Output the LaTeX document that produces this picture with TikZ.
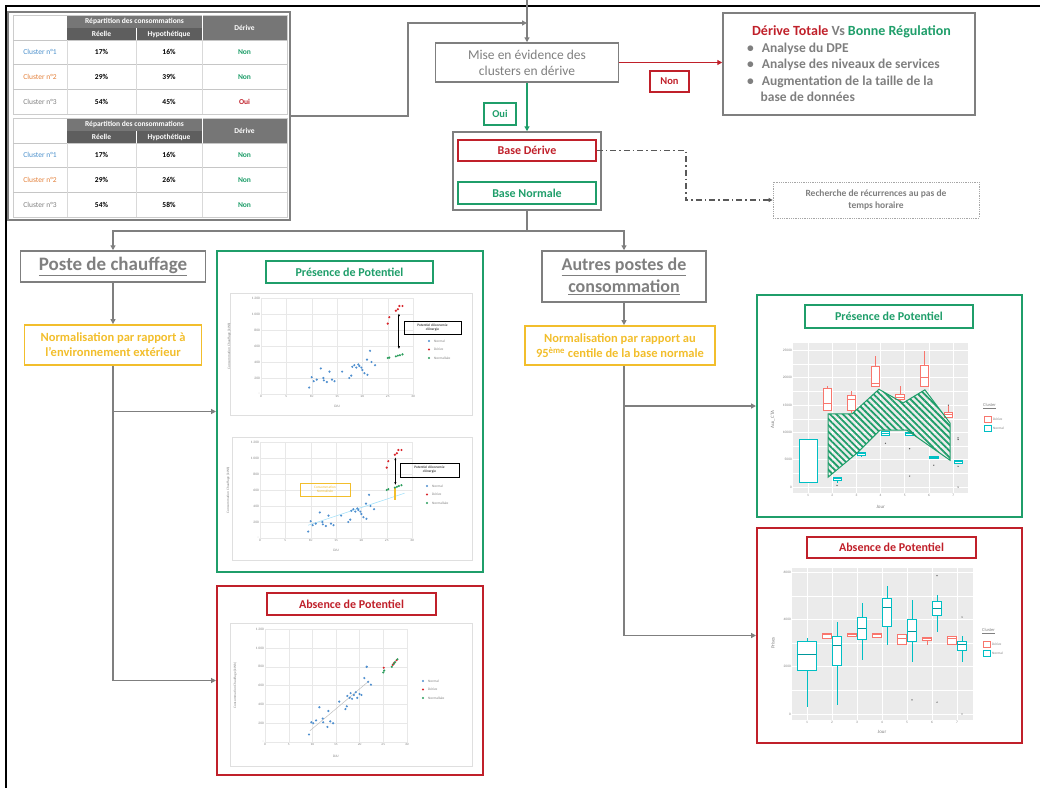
\documentclass[tikz,border=0pt]{standalone}
\usepackage{fontspec}
\setmainfont{Carlito}
\usetikzlibrary{arrows.meta,positioning,patterns.meta}

\definecolor{cgray}{HTML}{7F7F7F}
\definecolor{cgreen}{HTML}{1F9E6A}
\definecolor{cred}{HTML}{C0202A}
\definecolor{cyel}{HTML}{F2BE2C}
\definecolor{cblue}{HTML}{4A8FCB}
\definecolor{corange}{HTML}{E3803A}
\definecolor{thead}{HTML}{767676}
\definecolor{gpanel}{HTML}{EBEBEB}
\definecolor{gred}{RGB}{248,118,109}
\definecolor{gcyan}{RGB}{0,191,196}
\definecolor{gmed}{RGB}{0,151,155}
\definecolor{sblue}{HTML}{4F8FCF}
\definecolor{sred}{HTML}{D9262C}
\definecolor{sgreen}{HTML}{2A9D5C}

% nuages de points (DJU / kWh)
\newcommand{\nuageA}{9.5/80, 10/210, 10.4/160, 11/180, 11.8/320, 12.3/200, 12.4/170, 13/150, 13.5/280, 14/180, 14.5/160, 16/280, 17.4/200, 17.8/230, 18/340, 18.4/360, 18.8/330, 19.2/370, 19.4/350, 19.8/330, 20/300, 20.4/260, 21/240, 20.9/430, 21.5/540, 21.8/400, 22.5/360}
\newcommand{\nuageB}{9.3/80, 9.8/210, 10.2/200, 10.8/230, 11.5/370, 12.2/250, 12.3/210, 13.2/160, 13.4/330, 13.8/220, 14.4/200, 15.7/430, 17/350, 17.3/380, 17.4/490, 17.9/470, 18.1/520, 18.4/460, 18.8/500, 19.2/530, 19.5/470, 20/510, 20.4/500, 21/680, 21.5/800, 21.8/640, 22.4/610}
\newcommand{\nuageD}{25/880, 25.3/960, 26.6/1040, 27/1060, 27.3/1100, 27.9/1100}

\tikzset{
  boite/.style={draw=cgray,line width=1.5pt,inner sep=0pt,align=center},
  flux/.style={draw=cgray,line width=1.6pt,-{Triangle[length=5pt,width=5pt]}},
  titre/.style={draw,fill=white,line width=1.8pt,inner sep=0pt,font=\fontsize{12}{14}\selectfont\bfseries},
  cadre/.style={draw,line width=2pt,inner sep=0pt},
  graphe/.style={draw=gray!25,line width=0.5pt,fill=white,inner sep=0pt},
  minus/.style={font=\fontsize{3.5}{4}\selectfont,text=gray,inner sep=1pt},
  cellule/.style={font=\fontsize{7.5}{9}\selectfont\bfseries,inner sep=0pt},
  boxr/.style={color=gred,line width=0.8pt},
  boxc/.style={color=gcyan,line width=0.8pt},
}

\begin{document}
\begin{tikzpicture}[x=1pt,y=-1pt]
  \useasboundingbox (0,0) rectangle (1040,787);
  \draw[line width=2pt] (6,795) -- (6,6) -- (1045,6);

  % tableaux
  \node[draw=cgray,line width=1.5pt,minimum width=282pt,minimum height=208pt,inner sep=0pt] (tab) at (149,116) {};
  \foreach \ty/\hb/\hc/\dc/\cc in {15/39/45/Oui/cred,118/26/58/Non/cgreen}{
    \fill[thead] (67,\ty) rectangle (287,\ty+25);
    \fill[thead!80!black] (67,\ty+13) rectangle (202,\ty+25);
    \draw[gray!40] (13,\ty) rectangle (287,\ty+99);
    \draw[white,line width=0.6pt] (136,\ty+13) -- (136,\ty+25) (202,\ty) -- (202,\ty+25);
    \foreach \r in {1,2,3}{
      \draw[gray!45] (13,\ty+\r*24.7) -- (287,\ty+\r*24.7);
    }
    \foreach \c in {67,136,202}{
      \draw[gray!30] (\c,\ty+25) -- (\c,\ty+99);
    }
    \node[cellule,text=white] (h\ty) at (134.5,\ty+6.5) {Répartition des consommations};
    \node[cellule,text=white] (r\ty) at (101.5,\ty+19) {Réelle};
    \node[cellule,text=white] (y\ty) at (169,\ty+19) {Hypothétique};
    \node[cellule,text=white] (d\ty) at (244.5,\ty+12.5) {Dérive};
    \foreach \r/\lab/\lc/\re/\hy/\de/\dcol in {0/Cluster n°1/cblue/17/16/Non/cgreen,1/Cluster n°2/corange/29/\hb/Non/cgreen,2/Cluster n°3/cgray/54/\hc/\dc/\cc}{
      \node[cellule,font=\fontsize{7.5}{9}\selectfont,text=\lc] (l\ty\r) at (40,\ty+37.3+\r*24.7) {\lab};
      \node[cellule] (a\ty\r) at (101.5,\ty+37.3+\r*24.7) {\re\%};
      \node[cellule] (b\ty\r) at (169,\ty+37.3+\r*24.7) {\hy\%};
      \node[cellule,text=\dcol] (c\ty\r) at (244.5,\ty+37.3+\r*24.7) {\de};
    }
  }

  % haut du schema
  \coordinate (haut) at (527,0);
  \coordinate (entree) at (527,23);
  \node[boite,minimum width=183pt,minimum height=39pt,text=cgray,font=\fontsize{13.5}{16}\selectfont] (mise) at (527,62.5) {Mise en évidence des\\clusters en dérive};
  \draw[flux] (haut) -- (mise.north);
  \draw[flux] (tab.east) -- ++(117,0) |- (entree);

  \node[boite,minimum width=252pt,minimum height=102pt,align=left,text=cgray,font=\fontsize{13.5}{16.5}\selectfont\bfseries] (bilan) at (849,64) {%
    \hspace*{5pt}{\fontsize{14}{16.5}\selectfont\color{cred}Dérive Totale} {\fontsize{14}{16.5}\selectfont Vs} {\fontsize{14}{16.5}\selectfont\color{cgreen}Bonne Régulation}\\
    \textbullet\hspace{8pt}Analyse du DPE\\
    \textbullet\hspace{8pt}Analyse des niveaux de services\\
    \textbullet\hspace{8pt}Augmentation de la taille de la\\
    \hspace*{13.5pt}base de données};
  \draw[draw=cred,line width=1.6pt,-{Triangle[length=5pt,width=5pt]}] (mise.east) -- (bilan.west |- mise.east);
  \node[draw=cred,line width=1.2pt,text=cred,minimum width=39pt,minimum height=21pt,inner sep=0pt,font=\fontsize{10.5}{12}\selectfont\bfseries] (non) at (669.5,81.5) {Non};

  \node[boite,minimum width=148pt,minimum height=78pt] (base) at (527,171) {};
  \draw[draw=cgreen,line width=1.6pt,-{Triangle[length=5pt,width=5pt]}] (mise.south) -- (base.north);
  \node[draw=cgreen,line width=1.2pt,text=cgreen,minimum width=32pt,minimum height=22pt,inner sep=0pt,font=\fontsize{10.5}{12}\selectfont\bfseries] (oui) at (500,114) {Oui};
  \node[draw=cred,line width=1.5pt,text=cred,minimum width=138pt,minimum height=21pt,inner sep=0pt,font=\fontsize{12}{14}\selectfont\bfseries] (bder) at (527,150.5) {Base Dérive};
  \node[draw=cgreen,line width=1.5pt,text=cgreen,minimum width=138pt,minimum height=22pt,inner sep=0pt,font=\fontsize{12}{14}\selectfont\bfseries] (bnorm) at (527,193) {Base Normale};

  \node[draw=gray!70,densely dotted,line width=0.8pt,minimum width=206pt,minimum height=36pt,inner sep=0pt,align=center,text=cgray,font=\fontsize{9.5}{12}\selectfont\bfseries] (rech) at (876,200) {Recherche de récurrences au pas de\\temps horaire};
  \draw[draw=gray!70!black,line width=1.5pt,dash pattern=on 6pt off 3pt on 1.5pt off 3pt,-{Triangle[length=4pt,width=4pt]}] (bder.east) -- ++(89,0) |- (rech.west);

  % deux branches
  \node[boite,minimum width=185pt,minimum height=31pt,text=cgray,font=\fontsize{19}{22}\selectfont\bfseries] (poste) at (113,266.5) {\underline{Poste de chauffage}};
  \node[boite,minimum width=164pt,minimum height=51pt,text=cgray,font=\fontsize{18}{22}\selectfont\bfseries] (autres) at (624,276.5) {\underline{Autres postes de}\\\underline{consommation}};
  \draw[draw=cgray,line width=1.6pt] (base.south) -- ++(0,20) coordinate (split);
  \draw[flux] (split) -| (poste.north);
  \draw[flux] (split) -| (autres.north);

  \node[draw=cyel,line width=1.8pt,minimum width=177pt,minimum height=40pt,inner sep=0pt,align=center,text=cyel,font=\fontsize{12.5}{15}\selectfont\bfseries] (norm1) at (113,345) {Normalisation par rapport à\\l’environnement extérieur};
  \node[draw=cyel,line width=1.8pt,minimum width=190pt,minimum height=39pt,inner sep=0pt,align=center,text=cyel,font=\fontsize{12.5}{15}\selectfont\bfseries] (norm2) at (620,345.5) {Normalisation par rapport au\\95\textsuperscript{ème} centile de la base normale};
  \draw[flux] (poste.south) -- (norm1.north);
  \draw[flux] (autres.south) -- (autres.south |- norm2.north);

  % cadres des resultats
  \node[cadre,draw=cgreen,minimum width=266pt,minimum height=321pt] (pres1) at (350,411.5) {};
  \node[cadre,draw=cred,minimum width=266pt,minimum height=189pt] (abs1) at (350,680.5) {};
  \node[cadre,draw=cgreen,minimum width=265pt,minimum height=222pt] (pres2) at (889.5,406) {};
  \node[cadre,draw=cred,minimum width=265pt,minimum height=215pt] (abs2) at (889.5,635.5) {};
  \draw[flux] (norm1.south) |- (pres1.west);
  \draw[flux] (norm1.south) |- (abs1.west);
  \draw[flux] (autres.south |- norm2.south) |- (pres2.west);
  \draw[flux] (autres.south |- norm2.south) |- (abs2.west);

  \node[titre,draw=cgreen,text=cgreen,minimum width=167pt,minimum height=22pt] (tp1) at (349.5,272) {Présence de Potentiel};
  \node[titre,draw=cred,text=cred,minimum width=169pt,minimum height=22pt] (ta1) at (351.5,604) {Absence de Potentiel};
  \node[titre,draw=cgreen,text=cgreen,minimum width=168pt,minimum height=23pt] (tp2) at (889,316.5) {Présence de Potentiel};
  \node[titre,draw=cred,text=cred,minimum width=169pt,minimum height=21pt] (ta2) at (891.5,547.5) {Absence de Potentiel};

  % graphes chauffage
  \node[graphe,minimum width=242pt,minimum height=122pt] (g1) at (351,354) {};
  \node[graphe,minimum width=240pt,minimum height=123pt] (g2) at (352,498.5) {};
  \node[graphe,minimum width=242pt,minimum height=143pt] (g3) at (351,694.5) {};

  \foreach \gx/\gy/\sx/\sy/\gn in {261/394/5.07/0.08/1,260/538/5.07/0.08/2,265/742/4.73/0.094/3}{
    \begin{scope}[shift={(\gx,\gy)},x=\sx pt,y=\sy pt]
      \foreach \u in {0,5,...,30}{
        \draw[gray!18,line width=0.3pt] (\u,0) -- (\u,1200);
        \node[minus,anchor=north] (gx\gn\u) at (\u,0) {\u};
      }
      \foreach \v/\t in {0/-,200/200,400/400,600/600,800/800,1000/1 000,1200/1 200}{
        \draw[gray!18,line width=0.3pt] (0,\v) -- (30,\v);
        \node[minus,anchor=east] (gy\gn\v) at (0,\v) {\t};
      }
      \node[minus,rotate=90] (gt\gn) at (-6.3,600) {Consommation Chauffage (kWh)};
      \node[minus] (gd\gn) at (15,-150) {DJU};
    \end{scope}
  }

  \begin{scope}[shift={(261,394)},x=5.07pt,y=0.08pt]
    \foreach \a/\b in \nuageA {\fill[sblue] (\a,\b) circle (1.2pt);}
    \foreach \a/\b in \nuageD {\fill[sred] (\a,\b) circle (1.2pt);}
    \foreach \a/\b in {25/450,25.3/455,26.6/470,27/480,27.4/485,27.9/495} {\fill[sgreen] (\a,\b) circle (1.2pt);}
    \draw[line width=1pt,{Latex[length=3pt]}-{Latex[length=3pt]}] (27.2,1010) -- (27.2,560);
  \end{scope}
  \node[draw,line width=0.8pt,minimum width=57pt,minimum height=13pt,inner sep=0pt,align=center,font=\fontsize{3.5}{4}\selectfont] (pe1) at (432.5,327.5) {Potentiel d’économie\\d’énergie};

  \begin{scope}[shift={(260,538)},x=5.07pt,y=0.08pt]
    \draw[cyan!40,line width=0.5pt] (9.5,160) -- (28.5,560);
    \foreach \a/\b in \nuageA {\fill[sblue] (\a,\b) circle (1.2pt);}
    \foreach \a/\b in \nuageD {\fill[sred] (\a,\b) circle (1.2pt);}
    \draw[cyel,line width=2pt] (26.7,480) -- (26.7,620);
    \foreach \a/\b in {25/600,25.3/610,26.6/630,27/640,27.4/650,27.9/660} {\fill[sgreen] (\a,\b) circle (1.2pt);}
    \draw[line width=1pt,{Latex[length=3pt]}-{Latex[length=3pt]}] (26.7,1010) -- (26.7,660);
  \end{scope}
  \node[draw,line width=0.8pt,minimum width=59pt,minimum height=14pt,inner sep=0pt,align=center,font=\fontsize{3.5}{4}\selectfont] (pe2) at (429.5,470) {Potentiel d’économie\\d’énergie};
  \node[draw=cyel,line width=0.8pt,minimum width=50pt,minimum height=13pt,inner sep=0pt,align=center,text=cyel,font=\fontsize{3.5}{4}\selectfont] (ce2) at (325,489.5) {Consommation\\Normalisée};

  \begin{scope}[shift={(265,742)},x=4.73pt,y=0.094pt]
    \draw[gray!50,line width=0.5pt] (9.5,120) -- (22,650);
    \foreach \a/\b in \nuageB {\fill[sblue] (\a,\b) circle (1.2pt);}
    \foreach \a/\b in {25.1/790,27/820,27.3/840,27.8/870} {\fill[sred] (\a,\b) circle (1.2pt);}
    \foreach \a/\b in {25/740,25.2/760,26.8/800,27.2/830,27.5/850,28/880} {\fill[sgreen] (\a,\b) circle (1.2pt);}
    \fill[sblue] (21.5,800) circle (1.2pt);
  \end{scope}

  % legendes des nuages
  \foreach \lx/\ly/\gn in {429/341/1,427/486/2,423/681/3}{
    \foreach \k/\lab/\lc in {0/Normal/sblue,1/Dérive/sred,2/Normalisée/sgreen}{
      \fill[\lc] (\lx,\ly+\k*8.5) circle (1.2pt);
      \node[minus,anchor=west] (lg\gn\k) at (\lx+4,\ly+\k*8.5) {\lab};
    }
  }

  % boxplots Aux_CTA
  \begin{scope}[shift={(783.8,487)},x=24.2pt,y=5.46pt]
    \fill[gpanel] (0.38,-1.1) rectangle (7.6,26.4);
    \foreach \v in {2.5,7.5,...,22.5} {\draw[white,line width=0.3pt] (0.38,\v) -- (7.6,\v);}
    \foreach \v/\t in {0/0,5/5000,10/10000,15/15000,20/20000,25/25000}{
      \draw[white,line width=0.7pt] (0.38,\v) -- (7.6,\v);
      \node[minus,anchor=east] (ay\v) at (0.38,\v) {\t};
    }
    \foreach \j in {1,...,7}{
      \draw[white,line width=0.7pt] (\j,-1.1) -- (\j,26.4);
      \node[minus,anchor=north] (ax\j) at (\j,-1.1) {\j};
    }
    \node[minus,font=\fontsize{5}{6}\selectfont] (aj) at (4,-3.7) {Jour};
    \node[minus,font=\fontsize{5}{6}\selectfont,rotate=90] (an) at (-0.45,12.3) {Aux\_CTA};
    \foreach \j/\qa/\md/\qb/\lo/\hi in {2/14/15.3/18/14/18.5,3/14/16/16.8/13.6/17.5,4/18.5/19/22/18.5/24,5/16/16.5/17/15.5/18.5,6/18.5/20/22.3/18.5/25,7/12.8/13.3/13.7/12.8/15}{
      \draw[boxr] (\j-0.2,\qb) -- (\j-0.2,\hi) (\j-0.2,\qa) -- (\j-0.2,\lo);
      \filldraw[boxr,fill=white] (\j-0.37,\qa) rectangle (\j-0.03,\qb);
      \draw[boxr] (\j-0.37,\md) -- (\j-0.03,\md);
    }
    \filldraw[boxc,fill=white] (0.63,0.8) rectangle (1.37,8.8);
    \draw[boxc] (0.63,0.9) -- (1.37,0.9);
    \foreach \j/\qa/\md/\qb/\lo/\hi in {2/1.2/1.5/1.7/0.8/1.7,3/5.8/6.1/6.4/5.5/6.4,4/9.5/9.8/10.2/9.5/10.2,5/9.5/9.8/10/9.5/10,6/5.2/5.5/5.6/5.2/5.6,7/4.4/4.7/4.9/4.4/4.9}{
      \draw[boxc] (\j+0.2,\qb) -- (\j+0.2,\hi) (\j+0.2,\qa) -- (\j+0.2,\lo);
      \filldraw[boxc,fill=white] (\j+0.03,\qa) rectangle (\j+0.37,\qb);
      \draw[boxc] (\j+0.03,\md) -- (\j+0.37,\md);
    }
    \foreach \j/\o in {2/0.3,4/8,5/7,5/2,6/4,7/9,7/8.7,7/3.8,7/0}{\fill[gray!70!black] (\j+0.2,\o) circle (0.7pt);}
    \fill[gray!70!black] (6.8,15) circle (0.7pt);
    \draw[cgreen,line width=1pt,pattern={Lines[angle=-45,distance=4.5pt,line width=1.8pt]},pattern color=cgreen]
      (1.83,13.4) -- (2.82,13.4) -- (3.93,17.9) -- (4.93,15.4) -- (5.83,17.8) -- (6.87,11.7)
      -- (6.87,4.9) -- (5.09,10.4) -- (3.97,10.4) -- (3.02,6.2) -- (1.83,1.8) -- cycle;
  \end{scope}

  % boxplots Prises
  \begin{scope}[shift={(782,714)},x=25pt,y=23.65pt]
    \fill[gpanel] (0.4,-0.25) rectangle (7.64,6.17);
    \foreach \v in {1,3,5} {\draw[white,line width=0.3pt] (0.4,\v) -- (7.64,\v);}
    \foreach \v/\t in {0/0,2/2000,4/4000,6/6000}{
      \draw[white,line width=0.7pt] (0.4,\v) -- (7.64,\v);
      \node[minus,anchor=east] (py\v) at (0.4,\v) {\t};
    }
    \foreach \j in {1,...,7}{
      \draw[white,line width=0.7pt] (\j,-0.25) -- (\j,6.17);
      \node[minus,anchor=north] (px\j) at (\j,-0.25) {\j};
    }
    \node[minus,font=\fontsize{5}{6}\selectfont] (pj) at (4,-0.75) {Jour};
    \node[minus,font=\fontsize{5}{6}\selectfont,rotate=90] (pn) at (-0.36,3) {Prises};
    \foreach \j/\qa/\md/\qb/\lo/\hi in {2/3.2/3.35/3.4/3.2/3.4,3/3.3/3.35/3.4/3.3/3.4,4/3.25/3.35/3.4/3.25/3.4,5/2.95/3.2/3.35/2.95/3.35,6/3.1/3.2/3.25/2.9/3.25,7/2.95/3.2/3.3/2.95/3.3}{
      \draw[boxr] (\j-0.2,\qb) -- (\j-0.2,\hi) (\j-0.2,\qa) -- (\j-0.2,\lo);
      \filldraw[boxr,fill=white] (\j-0.37,\qa) rectangle (\j-0.03,\qb);
      \draw[boxr] (\j-0.37,\md) -- (\j-0.03,\md);
    }
    \draw[boxc] (1,3.05) -- (1,3.2) (1,1.85) -- (1,0.3);
    \filldraw[boxc,fill=white] (0.63,1.85) rectangle (1.37,3.05);
    \draw[color=gmed,line width=1pt] (0.63,2.5) -- (1.37,2.5);
    \foreach \j/\qa/\md/\qb/\lo/\hi in {2/2.05/2.9/3.3/0.4/3.9,3/3.15/3.6/4.1/2.3/4.7,4/3.7/4.5/4.9/2.9/5.4,5/3.05/3.5/4.0/2.2/4.8,6/4.15/4.45/4.75/3.45/5.05,7/2.7/2.95/3.05/2.2/3.3}{
      \draw[boxc] (\j+0.2,\qb) -- (\j+0.2,\hi) (\j+0.2,\qa) -- (\j+0.2,\lo);
      \filldraw[boxc,fill=white] (\j+0.03,\qa) rectangle (\j+0.37,\qb);
      \draw[color=gmed,line width=1pt] (\j+0.03,\md) -- (\j+0.37,\md);
    }
    \foreach \j/\o in {5/0.6,6/5.85,6/0.5,7/4.1,7/0}{\fill[gray!70!black] (\j+0.2,\o) circle (0.7pt);}
  \end{scope}

  % legendes des boxplots
  \foreach \lx/\ly/\gn in {982/406/1,981/631/2}{
    \node[minus,anchor=west,font=\fontsize{4.5}{5}\selectfont] (cl\gn) at (\lx,\ly) {\underline{Cluster}};
    \filldraw[boxr,fill=white] (\lx+2,\ly+10) rectangle (\lx+9,\ly+16);
    \filldraw[boxc,fill=white] (\lx+2,\ly+19.5) rectangle (\lx+9,\ly+25.5);
    \node[minus,anchor=west] (cd\gn) at (\lx+10,\ly+13) {Dérive};
    \node[minus,anchor=west] (cn\gn) at (\lx+10,\ly+22.5) {Normal};
  }
\end{tikzpicture}
\end{document}
